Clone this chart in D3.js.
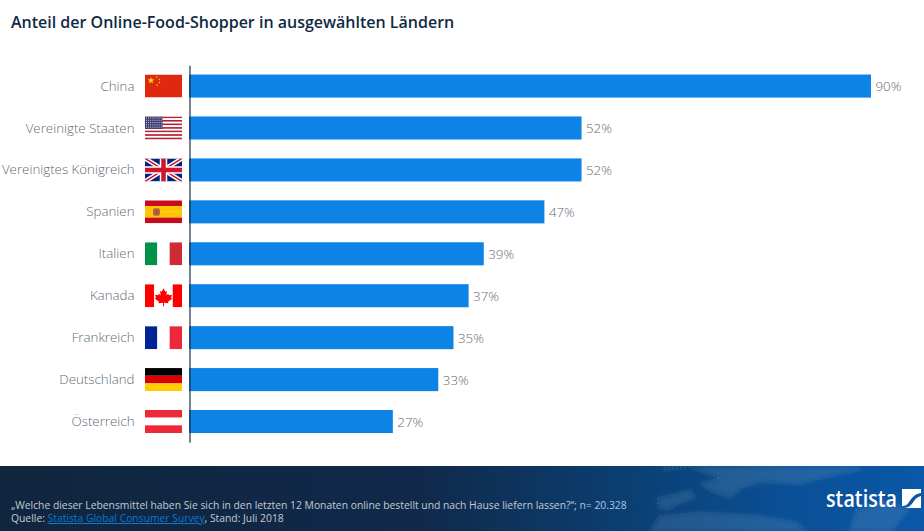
<!DOCTYPE html>
<html>
<head>
<meta charset="utf-8">
<script src="https://cdn.jsdelivr.net/npm/d3@7/dist/d3.min.js"></script>
<style>
  html, body { margin: 0; padding: 0; background: #fff; }
  svg { display: block; font-family: "Open Sans", sans-serif; }
</style>
</head>
<body>
<div id="chart"></div>
<script>
const countries = ['China', 'Vereinigte Staaten', 'Vereinigtes Königreich', 'Spanien', 'Italien', 'Kanada', 'Frankreich', 'Deutschland', 'Österreich'];
const shares = [90, 51.8, 51.8, 46.9, 38.9, 36.9, 34.9, 32.9, 26.9];
const flags = ['cn', 'us', 'gb', 'es', 'it', 'ca', 'fr', 'de', 'at'];

const width = 924, height = 531;
const svg = d3.select('#chart').append('svg').attr('width', width).attr('height', height);
const defs = svg.append('defs');

svg.append('text').attr('x', 11).attr('y', 28)
  .attr('font-size', 16).attr('font-weight', 600).attr('fill', '#0f2a43')
  .text('Anteil der Online-Food-Shopper in ausgewählten Ländern');

const x = d3.scaleLinear().domain([0, 90]).range([189, 871]);
const y = d3.scaleBand().domain(countries).range([65.3, 442.3]).paddingInner(0.45).paddingOuter(0.22);

// bars
svg.selectAll('.bar').data(countries).enter().append('rect')
  .attr('class', 'bar')
  .attr('x', x(0))
  .attr('y', d => y(d))
  .attr('width', (d, i) => x(shares[i]) - x(0))
  .attr('height', y.bandwidth())
  .attr('fill', '#0d83e6');

// value labels
svg.selectAll('.val').data(countries).enter().append('text')
  .attr('class', 'val')
  .attr('x', (d, i) => x(shares[i]) + 4.5)
  .attr('y', d => y(d) + y.bandwidth() / 2 + 5)
  .attr('font-size', 13.3).attr('font-weight', 300).attr('fill', '#5f6b76')
  .text((d, i) => d3.format('.0f')(shares[i]) + '%');

// axis
const yAxis = d3.axisLeft(y).tickSize(0).tickSizeOuter(0).tickPadding(55);
const axisG = svg.append('g').attr('transform', 'translate(189.5,0)').call(yAxis);
axisG.select('.domain').attr('stroke', '#1c3047').attr('stroke-width', 1.2);
axisG.selectAll('text')
  .attr('font-family', '"Open Sans", sans-serif')
  .attr('font-size', 13.3).attr('font-weight', 300).attr('fill', '#5f6b76')
  .attr('dy', '0.34em');

// flags
const fw = 37, fh = 23;
function bands(g, cols, vertical) {
  const n = cols.length;
  cols.forEach((c, i) => {
    g.append('rect')
      .attr('x', vertical ? i * fw / n : 0)
      .attr('y', vertical ? 0 : i * fh / n)
      .attr('width', vertical ? fw / n : fw)
      .attr('height', vertical ? fh : fh / n)
      .attr('fill', c);
  });
}
function star(g, cx, cy, r, fill) {
  const pts = d3.range(10).map(i => {
    const a = -Math.PI / 2 + i * Math.PI / 5, q = i % 2 ? r * 0.4 : r;
    return [cx + q * Math.cos(a), cy + q * Math.sin(a)].join(',');
  }).join(' ');
  g.append('polygon').attr('points', pts).attr('fill', fill);
}
const flagDraw = {
  cn(g) {
    bands(g, ['#de2910']);
    star(g, 6, 6, 3.6, '#ffde00');
    [[12, 2.5], [14.5, 5], [14.5, 8], [12, 10.5]].forEach(p => star(g, p[0], p[1], 1.2, '#ffde00'));
  },
  us(g) {
    bands(g, d3.range(13).map(i => i % 2 ? '#ffffff' : '#b22234'));
    g.append('rect').attr('width', 17.5).attr('height', 12.4).attr('fill', '#3c3b6e');
    d3.range(5).forEach(r => d3.range(8).forEach(c => {
      g.append('rect').attr('x', 1 + c * 2.1).attr('y', 1 + r * 2.3)
        .attr('width', 1).attr('height', 1).attr('fill', '#d5d5e6');
    }));
  },
  gb(g) {
    bands(g, ['#00247d']);
    g.append('path').attr('d', `M0,0L${fw},${fh}M${fw},0L0,${fh}`).attr('stroke', '#fff').attr('stroke-width', 4.6);
    g.append('path').attr('d', `M0,0L${fw},${fh}M${fw},0L0,${fh}`).attr('stroke', '#cf142b').attr('stroke-width', 1.5);
    g.append('path').attr('d', `M${fw / 2},0V${fh}M0,${fh / 2}H${fw}`).attr('stroke', '#fff').attr('stroke-width', 7.5);
    g.append('path').attr('d', `M${fw / 2},0V${fh}M0,${fh / 2}H${fw}`).attr('stroke', '#cf142b').attr('stroke-width', 4.5);
  },
  es(g) {
    bands(g, ['#c60b1e', '#ffc400', '#ffc400', '#c60b1e']);
    g.append('rect').attr('x', 8).attr('y', 8).attr('width', 7).attr('height', 7.5).attr('rx', 2).attr('fill', '#ad6a3a');
    g.append('rect').attr('x', 10).attr('y', 10).attr('width', 3).attr('height', 3).attr('fill', '#c8412e');
  },
  it(g) { bands(g, ['#009246', '#ffffff', '#ce2b37'], true); },
  ca(g) {
    bands(g, ['#ff0000', '#ffffff', '#ffffff', '#ff0000'], true);
    g.append('path')
      .attr('d', 'M18.5,4 L20.3,7.5 L22,6.8 L21.3,11 L23.2,9.5 L24,11 L27,10.5 L26,13.5 L27.3,14.3 L23,17.5 L23.5,19 L19,18.5 L19,22 L18,22 L18,18.5 L13.5,19 L14,17.5 L9.7,14.3 L11,13.5 L10,10.5 L13,11 L13.8,9.5 L15.7,11 L15,6.8 L16.7,7.5 Z')
      .attr('fill', '#ff0000');
  },
  fr(g) { bands(g, ['#002395', '#ffffff', '#ed2939'], true); },
  de(g) { bands(g, ['#000000', '#dd0000', '#ffce00']); },
  at(g) { bands(g, ['#ed2939', '#ffffff', '#ed2939']); }
};
svg.selectAll('.flag').data(countries).enter().append('g')
  .attr('class', 'flag')
  .attr('transform', d => `translate(145,${y(d)})`)
  .each(function (d, i) {
    const g = d3.select(this);
    defs.append('clipPath').attr('id', 'clip-' + flags[i])
      .append('rect').attr('width', fw).attr('height', fh);
    g.attr('clip-path', `url(#clip-${flags[i]})`);
    flagDraw[flags[i]](g);
  });

// footer
const grad = defs.append('linearGradient').attr('id', 'footGrad');
[[0, '#10263e'], [0.45, '#10294a'], [0.67, '#0b3e70'], [0.85, '#0a4f96'], [1, '#0a58a8']].forEach(s =>
  grad.append('stop').attr('offset', s[0]).attr('stop-color', s[1]));
defs.append('filter').attr('id', 'soft').append('feGaussianBlur').attr('stdDeviation', 2.2);
svg.append('rect').attr('x', 0).attr('y', 466).attr('width', width).attr('height', 65).attr('fill', 'url(#footGrad)');

// rough city-light land shapes on the map
const land = [
  'M664,470 L690,467 L720,478 L700,484 L712,492 L730,498 L742,488 L760,482 L800,484 L830,476 L862,470 L858,467 L664,467 Z',
  'M658,498 L676,494 L690,490 L696,498 L678,504 L668,510 L658,508 Z',
  'M660,516 L700,512 L760,516 L796,522 L806,531 L650,531 Z',
  'M856,510 L884,502 L910,508 L892,531 L850,531 Z'
];
const mapG = svg.append('g');
mapG.append('g').attr('filter', 'url(#soft)').selectAll('path').data(land).enter().append('path')
  .attr('d', d => d).attr('fill', '#88acc9').attr('opacity', 0.2);
mapG.append('g').selectAll('path').data(land).enter().append('path')
  .attr('d', d => d).attr('fill', 'none').attr('stroke', '#a9c3d8')
  .attr('stroke-width', 0.7).attr('stroke-dasharray', '1 3').attr('opacity', 0.35);

const foot = svg.append('g').attr('font-size', 10.34);
const line1 = foot.append('text').attr('x', 11).attr('y', 508.5).attr('fill', '#c3cbd3');
line1.append('tspan').text('„Welche dieser Lebensmittel haben Sie sich in den letzten 12 Monaten online bestellt und nach Hause liefern lassen?“; ');
line1.append('tspan').attr('fill', '#a9c8e6').text('n= 20.328');
const line2 = foot.append('text').attr('x', 11).attr('y', 522).attr('fill', '#c3cbd3');
line2.append('tspan').text('Quelle: ');
line2.append('tspan').attr('fill', '#0b78d0').attr('text-decoration', 'underline').text('Statista Global Consumer Survey');
line2.append('tspan').text(', Stand: Juli 2018');

// logo
svg.append('text').attr('x', 826).attr('y', 507)
  .attr('font-size', 23.5).attr('font-weight', 600).attr('fill', '#fff')
  .attr('textLength', 71).attr('lengthAdjust', 'spacingAndGlyphs')
  .text('statista');
svg.append('path').attr('transform', 'translate(902,489)')
  .attr('d', 'M0,0H19V4C12,5 10,9 7,13C5,16 3,17 0,17ZM19,7V19H3C8,18 10,15 12,12C14,9 16,8 19,7Z')
  .attr('fill', '#fff');
</script>
</body>
</html>
